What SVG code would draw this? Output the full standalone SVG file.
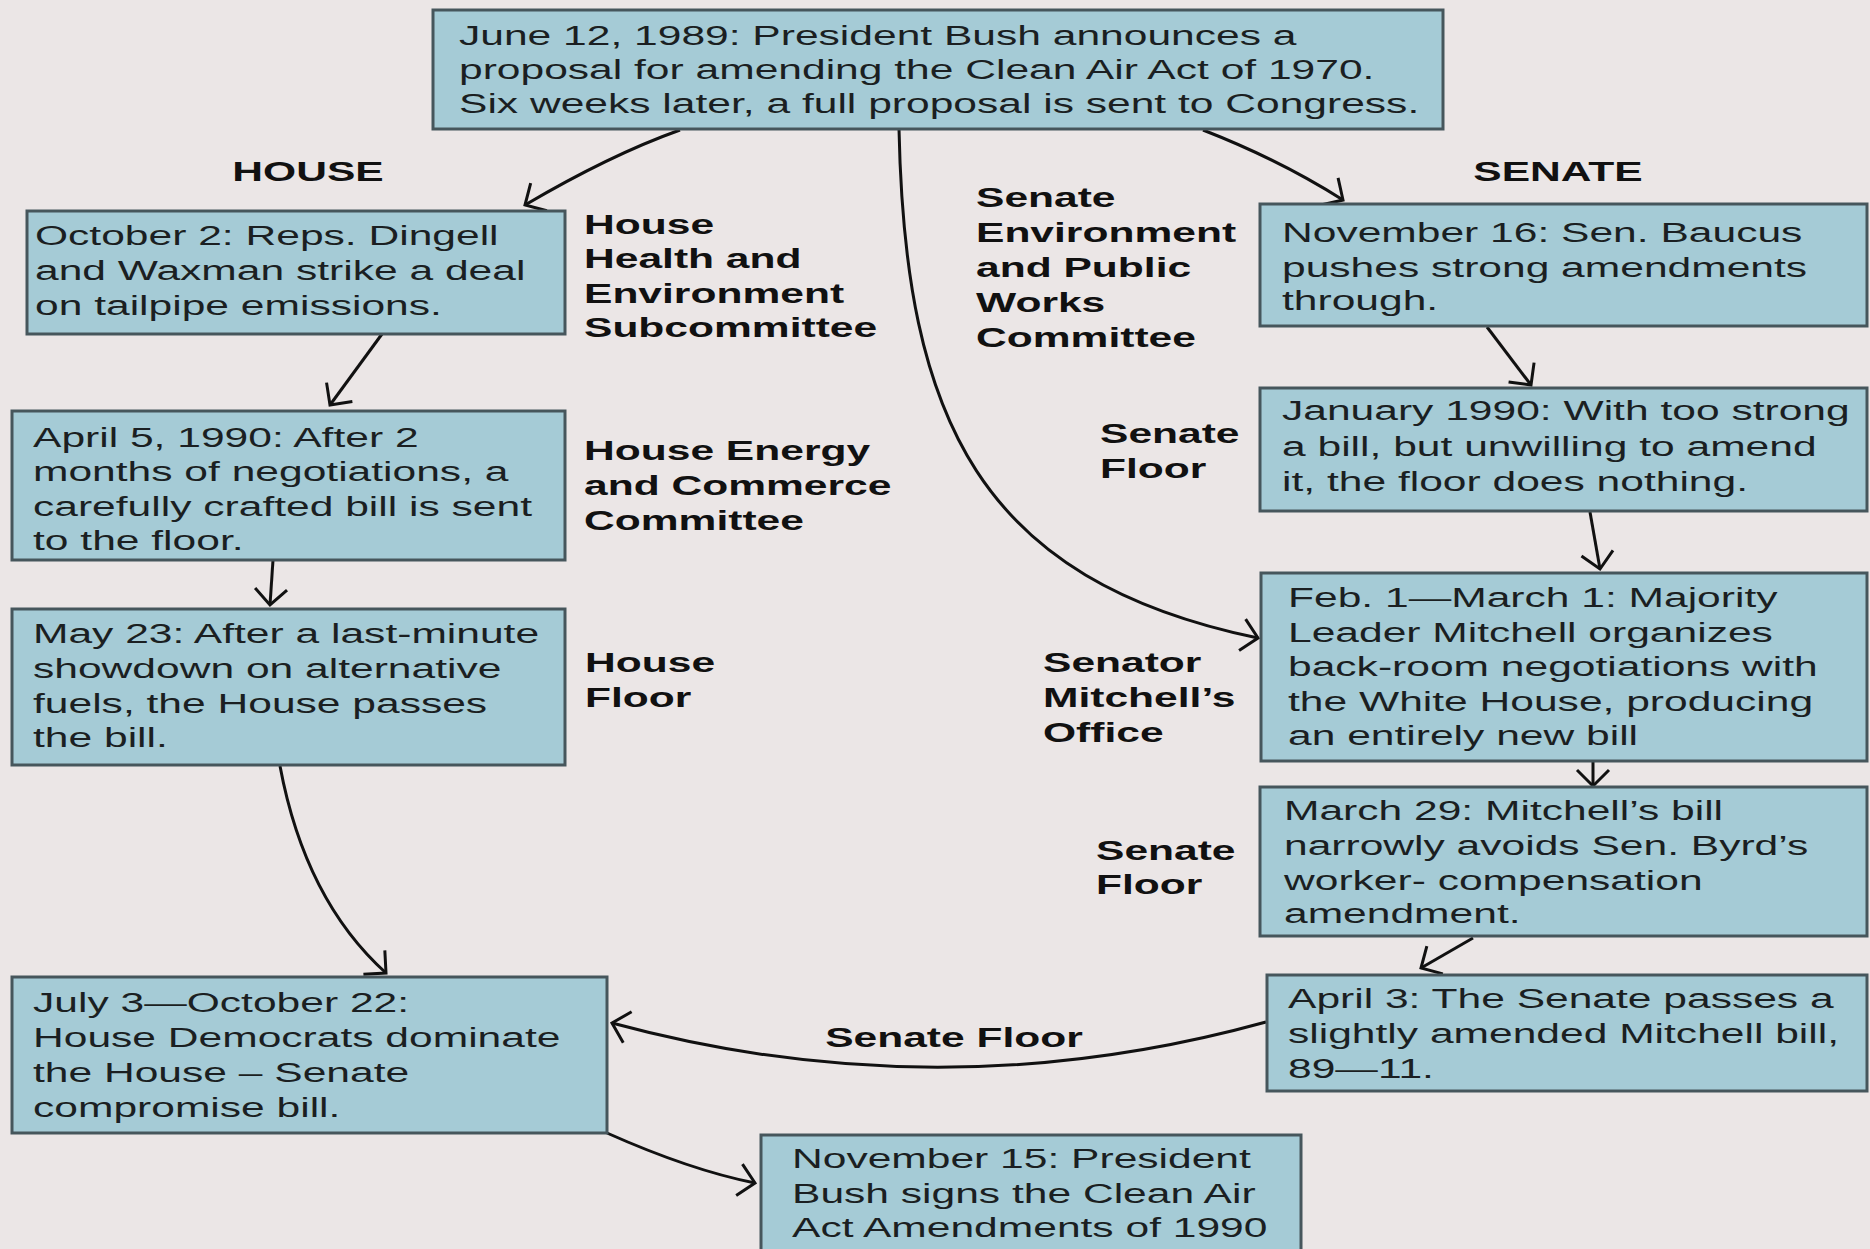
<svg xmlns="http://www.w3.org/2000/svg" width="1870" height="1249" viewBox="0 0 1870 1249">
<style>
.bx{fill:#a5cbd6;stroke:#46565c;stroke-width:3}
.t{font-family:"Liberation Sans",Arial,sans-serif;font-size:28px;fill:#1b1f22}
.b{font-family:"Liberation Sans",Arial,sans-serif;font-size:28px;font-weight:bold;fill:#111}
.c{fill:none;stroke:#111;stroke-width:3}
</style>
<defs>
<marker id="ah" markerUnits="userSpaceOnUse" markerWidth="50" markerHeight="50" viewBox="-25 -25 50 50" refX="0" refY="0" orient="auto" overflow="visible">
<path d="M-16,-16 L0,0 L-16,16" fill="none" stroke="#111" stroke-width="3"/>
</marker>
</defs>
<rect width="1870" height="1249" fill="#ebe6e6"/>

<g id="connectors">
<path class="c" d="M680,130 Q610,155 525,205" marker-end="url(#ah)"/>
<path class="c" d="M1203,130 Q1280,160 1343,200" marker-end="url(#ah)"/>
<path class="c" d="M899,129 C905,420 980,580 1258,638" marker-end="url(#ah)"/>
<path class="c" d="M382,334 L330,405" marker-end="url(#ah)"/>
<path class="c" d="M273,560 L270,605" marker-end="url(#ah)"/>
<path class="c" d="M280,766 Q305,900 386,973" marker-end="url(#ah)"/>
<path class="c" d="M607,1133 Q690,1170 755,1183" marker-end="url(#ah)"/>
<path class="c" d="M1487,327 L1531,385" marker-end="url(#ah)"/>
<path class="c" d="M1590,512 L1600,569" marker-end="url(#ah)"/>
<path class="c" d="M1593,761 L1593,786" marker-end="url(#ah)"/>
<path class="c" d="M1473,938 L1421,968" marker-end="url(#ah)"/>
<path class="c" d="M1266,1022 Q940,1112 612,1023" marker-end="url(#ah)"/>
</g>

<g id="labels">
<text class="b" text-anchor="middle" transform="translate(308,181) scale(1.52,1)">HOUSE</text>
<text class="b" text-anchor="middle" transform="translate(1558,181) scale(1.52,1)">SENATE</text>
<text class="b" transform="translate(584,234) scale(1.52,1)"><tspan x="0" y="0">House</tspan><tspan x="0" y="34.5">Health and</tspan><tspan x="0" y="69">Environment</tspan><tspan x="0" y="103.5">Subcommittee</tspan></text>
<text class="b" transform="translate(584,460) scale(1.52,1)"><tspan x="0" y="0">House Energy</tspan><tspan x="0" y="35">and Commerce</tspan><tspan x="0" y="70">Committee</tspan></text>
<text class="b" transform="translate(585,672) scale(1.52,1)"><tspan x="0" y="0">House</tspan><tspan x="0" y="35">Floor</tspan></text>
<text class="b" transform="translate(976,207) scale(1.52,1)"><tspan x="0" y="0">Senate</tspan><tspan x="0" y="35">Environment</tspan><tspan x="0" y="70">and Public</tspan><tspan x="0" y="105">Works</tspan><tspan x="0" y="140">Committee</tspan></text>
<text class="b" transform="translate(1100,443) scale(1.52,1)"><tspan x="0" y="0">Senate</tspan><tspan x="0" y="35">Floor</tspan></text>
<text class="b" transform="translate(1043,672) scale(1.52,1)"><tspan x="0" y="0">Senator</tspan><tspan x="0" y="35">Mitchell’s</tspan><tspan x="0" y="70">Office</tspan></text>
<text class="b" transform="translate(1096,860) scale(1.52,1)"><tspan x="0" y="0">Senate</tspan><tspan x="0" y="34">Floor</tspan></text>
<text class="b" text-anchor="middle" transform="translate(954,1047) scale(1.52,1)">Senate Floor</text>
</g>

<g id="n-top">
<rect class="bx" x="433" y="10" width="1010" height="119"/>
<text class="t" transform="translate(459,45) scale(1.52,1)"><tspan x="0" y="0">June 12, 1989: President Bush announces a</tspan><tspan x="0" y="34">proposal for amending the Clean Air Act of 1970.</tspan><tspan x="0" y="68">Six weeks later, a full proposal is sent to Congress.</tspan></text>
</g>
<g id="n-oct2">
<rect class="bx" x="27" y="211" width="538" height="123"/>
<text class="t" transform="translate(35,245) scale(1.52,1)"><tspan x="0" y="0">October 2: Reps. Dingell</tspan><tspan x="0" y="35">and Waxman strike a deal</tspan><tspan x="0" y="70">on tailpipe emissions.</tspan></text>
</g>
<g id="n-apr5">
<rect class="bx" x="12" y="411" width="553" height="149"/>
<text class="t" transform="translate(33,447) scale(1.52,1)"><tspan x="0" y="0">April 5, 1990: After 2</tspan><tspan x="0" y="34.5">months of negotiations, a</tspan><tspan x="0" y="69">carefully crafted bill is sent</tspan><tspan x="0" y="103.5">to the floor.</tspan></text>
</g>
<g id="n-may23">
<rect class="bx" x="12" y="609" width="553" height="156"/>
<text class="t" transform="translate(33,643) scale(1.52,1)"><tspan x="0" y="0">May 23: After a last-minute</tspan><tspan x="0" y="35">showdown on alternative</tspan><tspan x="0" y="70">fuels, the House passes</tspan><tspan x="0" y="104">the bill.</tspan></text>
</g>
<g id="n-july3">
<rect class="bx" x="12" y="977" width="595" height="156"/>
<text class="t" transform="translate(33,1012) scale(1.52,1)"><tspan x="0" y="0">July 3—October 22:</tspan><tspan x="0" y="35">House Democrats dominate</tspan><tspan x="0" y="70">the House – Senate</tspan><tspan x="0" y="105">compromise bill.</tspan></text>
</g>
<g id="n-nov15">
<rect class="bx" x="761" y="1135" width="540" height="130"/>
<text class="t" transform="translate(792,1168) scale(1.52,1)"><tspan x="0" y="0">November 15: President</tspan><tspan x="0" y="35">Bush signs the Clean Air</tspan><tspan x="0" y="69">Act Amendments of 1990</tspan></text>
</g>
<g id="n-nov16">
<rect class="bx" x="1260" y="204" width="607" height="122"/>
<text class="t" transform="translate(1282,242) scale(1.52,1)"><tspan x="0" y="0">November 16: Sen. Baucus</tspan><tspan x="0" y="35">pushes strong amendments</tspan><tspan x="0" y="68">through.</tspan></text>
</g>
<g id="n-jan1990">
<rect class="bx" x="1260" y="388" width="607" height="123"/>
<text class="t" transform="translate(1282,420) scale(1.52,1)"><tspan x="0" y="0">January 1990: With too strong</tspan><tspan x="0" y="36">a bill, but unwilling to amend</tspan><tspan x="0" y="71">it, the floor does nothing.</tspan></text>
</g>
<g id="n-feb1">
<rect class="bx" x="1261" y="573" width="606" height="188"/>
<text class="t" transform="translate(1288,607) scale(1.52,1)"><tspan x="0" y="0">Feb. 1—March 1: Majority</tspan><tspan x="0" y="35">Leader Mitchell organizes</tspan><tspan x="0" y="69.5">back-room negotiations with</tspan><tspan x="0" y="104.5">the White House, producing</tspan><tspan x="0" y="138.5">an entirely new bill</tspan></text>
</g>
<g id="n-mar29">
<rect class="bx" x="1260" y="787" width="607" height="149"/>
<text class="t" transform="translate(1284,820) scale(1.52,1)"><tspan x="0" y="0">March 29: Mitchell’s bill</tspan><tspan x="0" y="35">narrowly avoids Sen. Byrd’s</tspan><tspan x="0" y="70">worker- compensation</tspan><tspan x="0" y="103.5">amendment.</tspan></text>
</g>
<g id="n-apr3">
<rect class="bx" x="1267" y="975" width="600" height="116"/>
<text class="t" transform="translate(1288,1008) scale(1.52,1)"><tspan x="0" y="0">April 3: The Senate passes a</tspan><tspan x="0" y="35">slightly amended Mitchell bill,</tspan><tspan x="0" y="70">89—11.</tspan></text>
</g>
</svg>
